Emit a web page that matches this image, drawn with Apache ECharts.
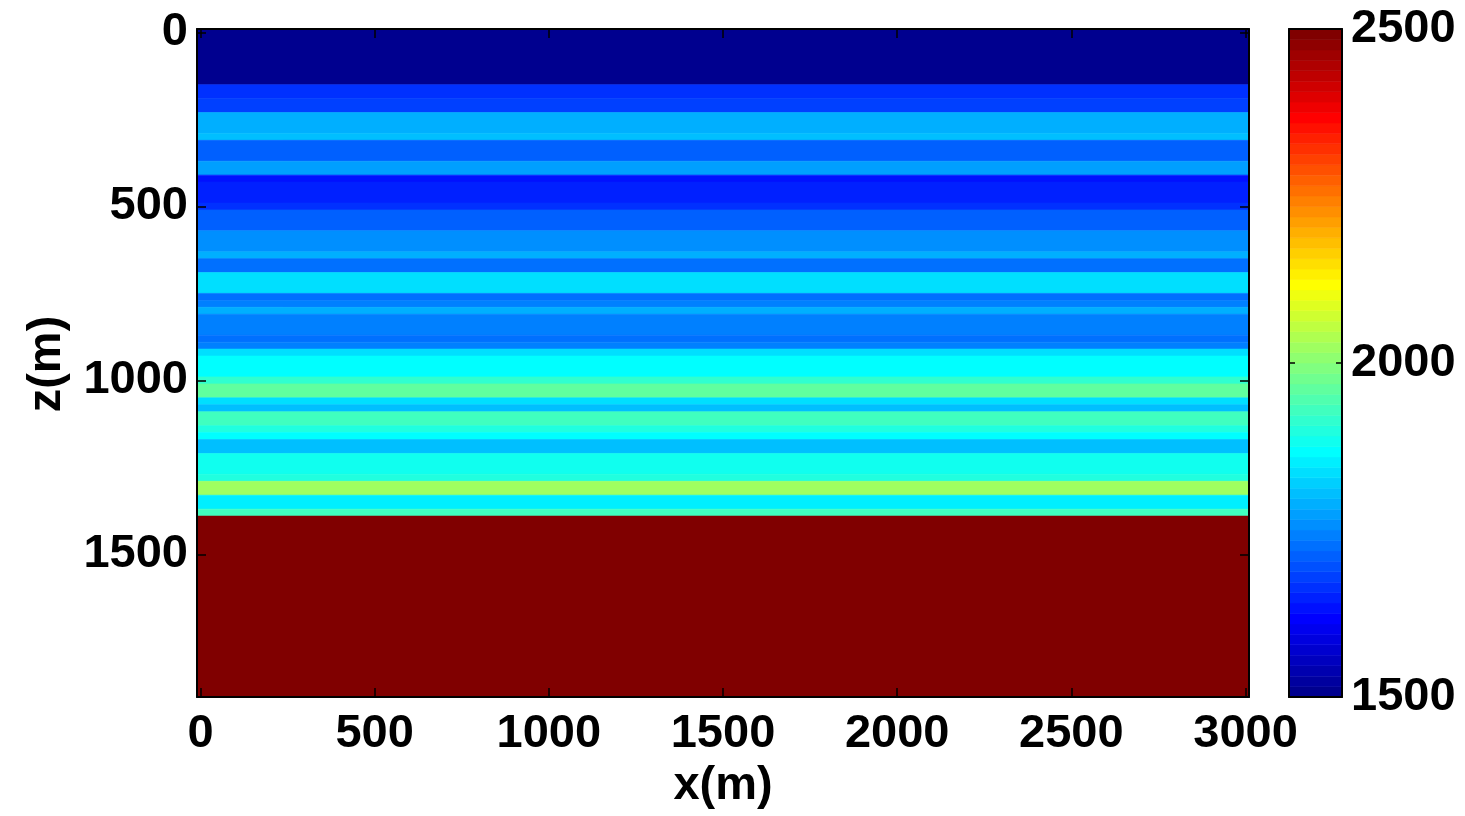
<!DOCTYPE html>
<html>
<head>
<meta charset="utf-8">
<title>Layered velocity model</title>
<script src="https://cdn.jsdelivr.net/npm/echarts@6/dist/echarts.min.js"></script>
<style>
  html, body { margin: 0; padding: 0; background: #ffffff; }
  #chart { width: 1465px; height: 816px; }
</style>
</head>
<body>
<div id="chart"></div>
<script>
// Layered model: depth (m) of the first grid sample of each layer and its velocity (m/s)
const layerTopDepth = [0, 160, 200, 240, 300, 320, 380, 420, 440, 500, 520, 580, 640, 660, 700,
  760, 780, 800, 820, 880, 900, 920, 940, 1000, 1020, 1060, 1080, 1100, 1140, 1160, 1180, 1220,
  1280, 1300, 1340, 1380, 1400];
const layerVelocity = [1500, 1660, 1680, 1790, 1800, 1710, 1770, 1630, 1645, 1660, 1710, 1755, 1790,
  1725, 1835, 1725, 1740, 1785, 1740, 1725, 1745, 1835, 1865, 1910, 1960, 1835, 1800, 1925, 1895,
  1865, 1800, 1880, 1900, 2020, 1850, 1925, 2500];

// Grid sampling of the model
const gridStep = 20;        // m
const lastX = 3000;         // m
const lastDepth = 1900;     // m

// Tick labels
const xTicks = [0, 500, 1000, 1500, 2000, 2500, 3000];
const zTicks = [0, 500, 1000, 1500];
const colorLimits = [1500, 2500];
const colorbarTicks = [1500, 2000, 2500];
const nColors = 64;

// MATLAB-style jet colormap
function jetColor(i, n) {
  const x = (i + 1) / n;
  const c = v => Math.round(Math.max(0, Math.min(1, v)) * 255);
  const r = c(Math.min(4 * x - 1.5, -4 * x + 4.5));
  const g = c(Math.min(4 * x - 0.5, -4 * x + 3.5));
  const b = c(Math.min(4 * x + 0.5, -4 * x + 2.5));
  return 'rgb(' + r + ',' + g + ',' + b + ')';
}
const jet = Array.from({ length: nColors }, (_, i) => jetColor(i, nColors));
function colorIndex(v) {
  const t = (v - colorLimits[0]) / (colorLimits[1] - colorLimits[0]);
  return Math.max(0, Math.min(nColors - 1, Math.floor(t * nColors)));
}

// Layer cells: [zTopEdge, zBottomEdge, velocity]
const half = gridStep / 2;
const layerData = layerTopDepth.map((z, i) => {
  const next = i + 1 < layerTopDepth.length ? layerTopDepth[i + 1] : lastDepth + gridStep;
  return [z - half, next - half, layerVelocity[i]];
});

// Colorbar bands: [low, high, index]
const bandStep = (colorLimits[1] - colorLimits[0]) / nColors;
const bandData = jet.map((_, j) => [colorLimits[0] + j * bandStep, colorLimits[0] + (j + 1) * bandStep, j]);

const FONT = '"Liberation Sans", Arial, Helvetica, sans-serif';
const FONT_SIZE = 47;
const plain = v => String(v);
const labelStyle = { fontSize: FONT_SIZE, fontWeight: 'bold', color: '#000', fontFamily: FONT, formatter: plain };
const lineStyle = { color: '#000', width: 2 };
const tickStyle = { color: '#000', width: 1.5 };

// Axes form a closed box around each plot; they never jump to the zero line
function frameAxis(extra) {
  return Object.assign({
    type: 'value', z: 10,
    axisLine: { show: true, onZero: false, lineStyle: lineStyle },
    splitLine: { show: false }
  }, extra);
}

const chart = echarts.init(document.getElementById('chart'), null, { renderer: 'canvas' });

const option = {
  backgroundColor: '#ffffff',
  animation: false,
  grid: [
    { left: 197, top: 29, width: 1052, height: 668, containLabel: false },
    { left: 1289, top: 29, width: 53, height: 668, containLabel: false }
  ],
  xAxis: [
    frameAxis({
      gridIndex: 0, position: 'bottom', min: -half, max: lastX + half,
      axisTick: { show: true, inside: true, length: 9, customValues: xTicks, lineStyle: tickStyle },
      axisLabel: Object.assign({ show: true, margin: 14, customValues: xTicks }, labelStyle)
    }),
    frameAxis({
      gridIndex: 0, position: 'top', min: -half, max: lastX + half,
      axisTick: { show: true, inside: true, length: 9, customValues: xTicks, lineStyle: tickStyle },
      axisLabel: { show: false, customValues: xTicks }
    }),
    frameAxis({
      gridIndex: 1, position: 'bottom', min: 0, max: 1,
      axisTick: { show: false }, axisLabel: { show: false }
    }),
    frameAxis({
      gridIndex: 1, position: 'top', min: 0, max: 1,
      axisTick: { show: false }, axisLabel: { show: false }
    })
  ],
  yAxis: [
    frameAxis({
      gridIndex: 0, position: 'left', inverse: true, min: -half, max: lastDepth + half,
      axisTick: { show: true, inside: true, length: 9, customValues: zTicks, lineStyle: tickStyle },
      axisLabel: Object.assign({ show: true, margin: 9, customValues: zTicks }, labelStyle)
    }),
    frameAxis({
      gridIndex: 0, position: 'right', inverse: true, min: -half, max: lastDepth + half,
      axisTick: { show: true, inside: true, length: 9, customValues: zTicks, lineStyle: tickStyle },
      axisLabel: { show: false, customValues: zTicks }
    }),
    frameAxis({
      gridIndex: 1, position: 'right', min: colorLimits[0], max: colorLimits[1],
      axisTick: { show: true, inside: true, length: 6, customValues: colorbarTicks, lineStyle: tickStyle },
      axisLabel: Object.assign({ show: true, margin: 9, customValues: colorbarTicks }, labelStyle)
    }),
    frameAxis({
      gridIndex: 1, position: 'left', min: colorLimits[0], max: colorLimits[1],
      axisTick: { show: true, inside: true, length: 6, customValues: colorbarTicks, lineStyle: tickStyle },
      axisLabel: { show: false, customValues: colorbarTicks }
    })
  ],
  graphic: [
    {
      type: 'text', x: 723, y: 786,
      style: { text: 'x(m)', fill: '#000', font: 'bold ' + FONT_SIZE + 'px ' + FONT, align: 'center', verticalAlign: 'middle' }
    },
    {
      type: 'text', x: 47, y: 364, rotation: Math.PI / 2,
      style: { text: 'z(m)', fill: '#000', font: 'bold ' + FONT_SIZE + 'px ' + FONT, align: 'center', verticalAlign: 'middle' }
    }
  ],
  series: [
    {
      type: 'custom',
      xAxisIndex: 0, yAxisIndex: 0,
      clip: true,
      z: 1,
      data: layerData,
      renderItem: function (params, api) {
        const p0 = api.coord([-half, api.value(0)]);
        const p1 = api.coord([lastX + half, api.value(1)]);
        const color = jet[colorIndex(api.value(2))];
        return {
          type: 'rect',
          shape: {
            x: Math.min(p0[0], p1[0]), y: Math.min(p0[1], p1[1]),
            width: Math.abs(p1[0] - p0[0]), height: Math.abs(p1[1] - p0[1])
          },
          style: { fill: color, stroke: color, lineWidth: 0.6 }
        };
      },
      encode: { x: -1, y: [0, 1] }
    },
    {
      type: 'custom',
      xAxisIndex: 2, yAxisIndex: 2,
      clip: true,
      z: 1,
      data: bandData,
      renderItem: function (params, api) {
        const p0 = api.coord([0, api.value(0)]);
        const p1 = api.coord([1, api.value(1)]);
        const color = jet[api.value(2)];
        return {
          type: 'rect',
          shape: {
            x: Math.min(p0[0], p1[0]), y: Math.min(p0[1], p1[1]),
            width: Math.abs(p1[0] - p0[0]), height: Math.abs(p1[1] - p0[1])
          },
          style: { fill: color, stroke: color, lineWidth: 0.6 }
        };
      },
      encode: { x: -1, y: [0, 1] }
    }
  ]
};

chart.setOption(option);
</script>
</body>
</html>
